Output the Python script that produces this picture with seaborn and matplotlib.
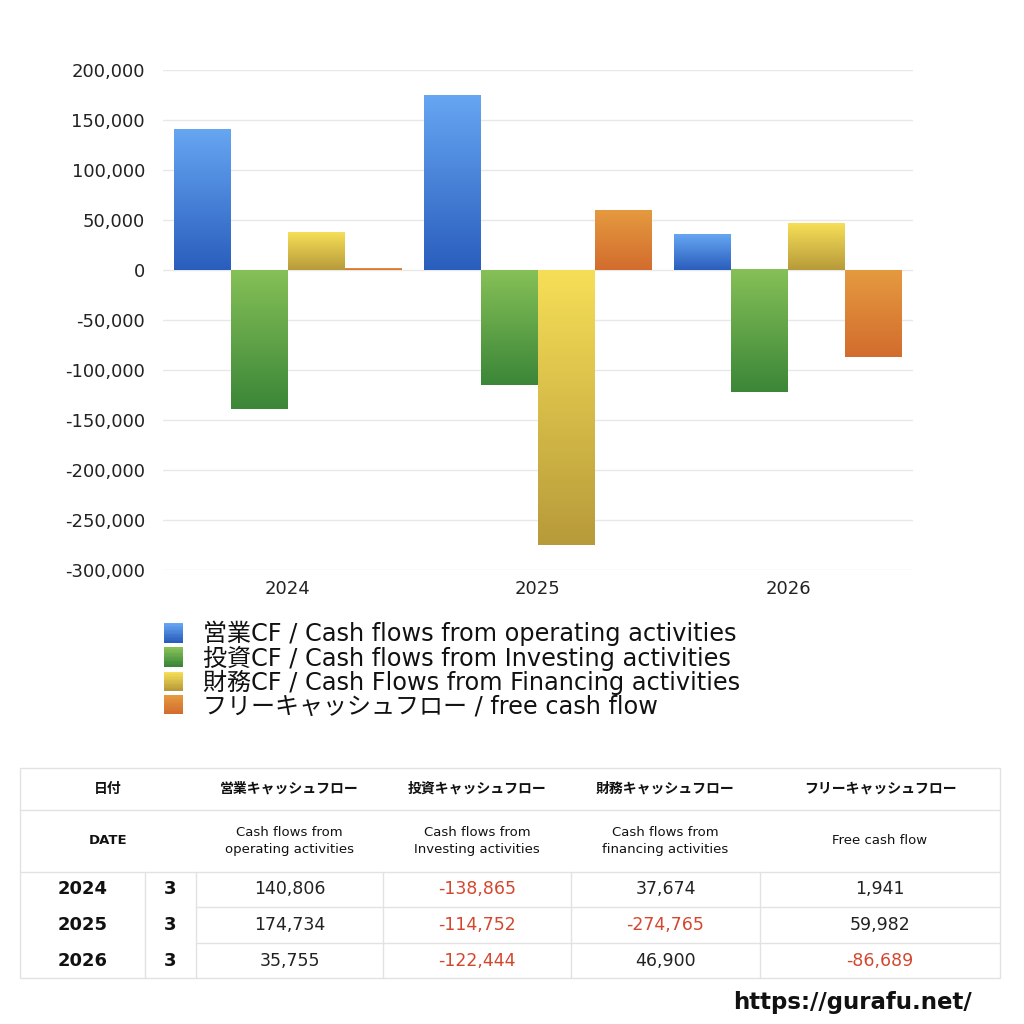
import matplotlib
matplotlib.use("Agg")
import matplotlib.pyplot as plt
import numpy as np
import pandas as pd
import seaborn as sns
from matplotlib.legend_handler import HandlerBase
from matplotlib.patches import Rectangle
from matplotlib.ticker import FuncFormatter

# === data
years = ["2024", "2025", "2026"]
months = ["3", "3", "3"]
operating = [140806, 174734, 35755]
investing = [-138865, -114752, -122444]
financing = [37674, -274765, 46900]
free_cf = [1941, 59982, -86689]

series_labels = [
    "営業CF / Cash flows from operating activities",
    "投資CF / Cash flows from Investing activities",
    "財務CF / Cash Flows from Financing activities",
    "フリーキャッシュフロー / free cash flow",
]
table_head_jp = ["営業キャッシュフロー", "投資キャッシュフロー", "財務キャッシュフロー", "フリーキャッシュフロー"]
table_head_en = ["Cash flows from\noperating activities", "Cash flows from\nInvesting activities",
                 "Cash flows from\nfinancing activities", "Free cash flow"]

# gradient colours (top -> bottom) per series
grad = [("#66a6f2", "#2a5ebd"), ("#86c057", "#3b8638"), ("#f6df57", "#b79a3a"), ("#e59a3f", "#d26c2e")]
mid = ["#4a84da", "#5fa347", "#d8bf49", "#dc8236"]

sns.set_theme(style="white")
plt.rcParams["font.family"] = ["DejaVu Sans", "Noto Sans CJK JP"]
CJK = ["Noto Sans CJK JP", "DejaVu Sans"]

df = pd.DataFrame({
    "year": years * 4,
    "value": operating + investing + financing + free_cf,
    "series": [s for s in series_labels for _ in years],
})

fig = plt.figure(figsize=(10.24, 10.24), dpi=100)
ax = fig.add_axes([163 / 1024, 1 - 570 / 1024, 750 / 1024, 500 / 1024])

sns.barplot(data=df, x="year", y="value", hue="series", hue_order=series_labels,
            palette=mid, width=0.91, gap=0, saturation=1, legend=False, ax=ax)

# === gradients on top of each bar
g = np.linspace(0, 1, 256).reshape(-1, 1)
for cont, (top, bot) in zip(ax.containers, grad):
    cmap = matplotlib.colors.LinearSegmentedColormap.from_list("g", [top, bot])
    for p in cont.patches:
        x0, w = p.get_x(), p.get_width()
        y0, h = p.get_y(), p.get_height()
        lo, hi = min(y0, y0 + h), max(y0, y0 + h)
        ax.imshow(g, cmap=cmap, extent=(x0, x0 + w, lo, hi), aspect="auto",
                  origin="upper", zorder=3, interpolation="bicubic")
        p.set_alpha(0)

ax.set_xlim(-0.5, 2.5)
ax.set_ylim(-300000, 200000)
ax.set_yticks(np.arange(-300000, 200001, 50000))
ax.yaxis.set_major_formatter(FuncFormatter(lambda v, _: f"{int(v):,}"))
ax.grid(axis="y", color="#e8e8e8", linewidth=1, zorder=0)
ax.set_axisbelow(True)
for s in ax.spines.values():
    s.set_visible(False)
ax.tick_params(axis="both", length=0, labelsize=13, colors="#222222")
ax.tick_params(axis="y", pad=13)
ax.tick_params(axis="x", pad=7)
ax.set_xlabel("")
ax.set_ylabel("")


# === legend with gradient swatches
class GradHandler(HandlerBase):
    def __init__(self, cols):
        super().__init__()
        self.cols = cols

    def create_artists(self, legend, orig, xd, yd, width, height, fontsize, trans):
        top, bot = self.cols
        cmap = matplotlib.colors.LinearSegmentedColormap.from_list("g", [top, bot])
        n = 14
        arts = []
        for i in range(n):
            r = Rectangle((xd * -1, -yd + height * (1 - (i + 1) / n)), width, height / n + 0.3,
                          facecolor=cmap(i / (n - 1)), edgecolor="none", transform=trans)
            arts.append(r)
        return arts


handles = [Rectangle((0, 0), 1, 1) for _ in series_labels]
leg = fig.legend(handles, series_labels, loc="upper left",
                 bbox_to_anchor=(164 / 1024, 1 - 621 / 1024), frameon=False,
                 fontsize=17.3, handlelength=0.78, handleheight=0.85, handletextpad=0.85,
                 labelspacing=-0.035, borderpad=0, borderaxespad=0,
                 handler_map={h: GradHandler(c) for h, c in zip(handles, grad)})
for t in leg.get_texts():
    t.set_color("#111111")

# === table below
tax = fig.add_axes([0, 0, 1, 1])
tax.set_xlim(0, 1024)
tax.set_ylim(1024, 0)
tax.axis("off")

col_edges = [196, 383, 571, 760, 1000]
line_c = "#e2e2e2"
tax.add_patch(Rectangle((20, 768), 980, 210, facecolor="none", edgecolor=line_c, lw=1))
for yy in [810, 872]:
    tax.plot([20, 1000], [yy, yy], color=line_c, lw=1)
for yy in [907, 943]:
    tax.plot([196, 1000], [yy, yy], color=line_c, lw=1)
for xx in [145] + col_edges[:-1]:
    tax.plot([xx, xx], [872, 978], color=line_c, lw=1)

tax.text(108, 789, "日付", ha="center", va="center", fontsize=10, fontweight="bold",
         color="#111111", family=CJK)
tax.text(108, 841, "DATE", ha="center", va="center", fontsize=9.5, fontweight="bold", color="#111111")
centers = [(a + b) / 2 for a, b in zip(col_edges[:-1], col_edges[1:])]
for cx, jp, en in zip(centers, table_head_jp, table_head_en):
    tax.text(cx, 789, jp, ha="center", va="center", fontsize=10, fontweight="bold",
             color="#111111", family=CJK)
    tax.text(cx, 841, en, ha="center", va="center", fontsize=9.5, color="#111111", linespacing=1.3)

row_y = [889.5, 925, 960.5]
cols = [operating, investing, financing, free_cf]
for i, (yr, mo) in enumerate(zip(years, months)):
    tax.text(83, row_y[i], yr, ha="center", va="center", fontsize=13, fontweight="bold", color="#111111")
    tax.text(170, row_y[i], mo, ha="center", va="center", fontsize=13, fontweight="bold", color="#111111")
    for cx, vals in zip(centers, cols):
        v = vals[i]
        tax.text(cx, row_y[i], f"{v:,}", ha="center", va="center", fontsize=12.5,
                 color="#d4472e" if v < 0 else "#222222")

tax.text(972, 1003, "https://gurafu.net/", ha="right", va="center", fontsize=16.5,
         fontweight="bold", color="#111111")

fig.savefig("out.png", dpi=100, facecolor="white")
